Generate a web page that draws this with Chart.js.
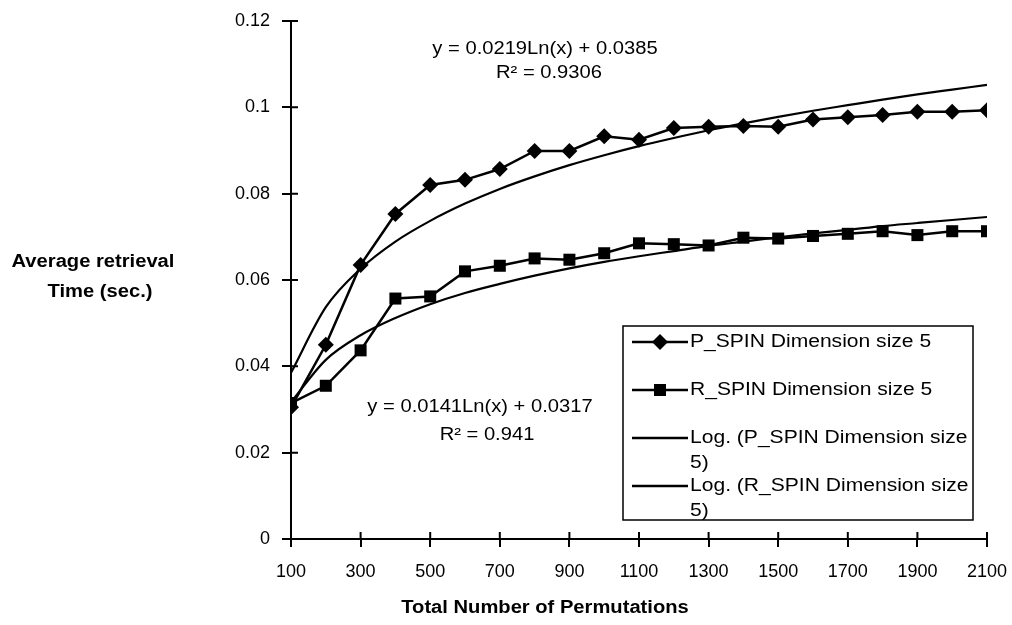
<!DOCTYPE html>
<html lang="en">
<head>
    <meta charset="UTF-8">
    <title>Average retrieval time</title>
    <script src="https://cdn.jsdelivr.net/npm/chart.js@4.4.1/dist/chart.umd.min.js"></script>
    <style>
        html, body { margin: 0; padding: 0; background: #fff; }
        #wrap { width: 1012px; height: 625px; position: relative; }
    </style>
</head>
<body>

<div id="wrap">
    <canvas id="myChart" width="1012" height="625"></canvas>
</div>

<script>
    // values
    var permutations = [100, 200, 300, 400, 500, 600, 700, 800, 900, 1000, 1100,
        1200, 1300, 1400, 1500, 1600, 1700, 1800, 1900, 2000, 2100];
    var pSpin = [0.0305, 0.045, 0.0635, 0.0753, 0.082, 0.0832, 0.0857, 0.0899, 0.0899, 0.0933, 0.0925,
        0.0952, 0.0955, 0.0957, 0.0955, 0.0972, 0.0977, 0.0982, 0.099, 0.099, 0.0993];
    var rSpin = [0.0315, 0.0355, 0.0437, 0.0557, 0.0562, 0.062, 0.0633, 0.065, 0.0647, 0.0662, 0.0685,
        0.0683, 0.068, 0.0698, 0.0696, 0.0702, 0.0707, 0.0713, 0.0704, 0.0713, 0.0713];
    var pSpinLog = [0.0385, 0.0537, 0.0626, 0.0689, 0.0737, 0.0777, 0.0811, 0.084, 0.0866, 0.0889, 0.091,
        0.0929, 0.0947, 0.0963, 0.0978, 0.0992, 0.1005, 0.1018, 0.103, 0.1041, 0.1052];
    var rSpinLog = [0.0317, 0.0415, 0.0472, 0.0512, 0.0544, 0.057, 0.0591, 0.061, 0.0627, 0.0642, 0.0655,
        0.0667, 0.0679, 0.0689, 0.0699, 0.0708, 0.0716, 0.0725, 0.0732, 0.0739, 0.0746];
    var xTicks = [100, 300, 500, 700, 900, 1100, 1300, 1500, 1700, 1900, 2100];
    var seriesNames = ["P_SPIN Dimension size 5", "R_SPIN Dimension size 5",
        "Log. (P_SPIN Dimension size", "Log. (R_SPIN Dimension size"];
    var eqP = ["y = 0.0219Ln(x) + 0.0385", "R\u00b2 = 0.9306"];
    var eqR = ["y = 0.0141Ln(x) + 0.0317", "R\u00b2 = 0.941"];

    var FONT = "'Liberation Sans', Arial, sans-serif";

    function pts(arr) {
        return arr.map(function (v, i) { return {x: permutations[i], y: v}; });
    }

    // text slightly stretched sideways like the scan
    function txt(ctx, s, x, y, align, sx) {
        ctx.save();
        ctx.translate(x, y);
        ctx.scale(sx, 1);
        ctx.textAlign = align;
        ctx.fillText(s, 0, 0);
        ctx.restore();
    }

    // texts, cross ticks + legend box drawn on top
    var extras = {
        id: 'extras',
        afterDraw: function (chart) {
            var ctx = chart.ctx;
            var xs = chart.scales.x, ys = chart.scales.y;
            ctx.save();
            ctx.fillStyle = '#000';
            ctx.strokeStyle = '#000';
            ctx.textBaseline = 'middle';

            // inner half of the tick marks
            ctx.lineWidth = 2;
            ctx.beginPath();
            ys.ticks.forEach(function (t) {
                var py = ys.getPixelForValue(t.value);
                ctx.moveTo(xs.left, py);
                ctx.lineTo(xs.left + 7, py);
            });
            xTicks.forEach(function (v) {
                var px = xs.getPixelForValue(v);
                ctx.moveTo(px, ys.bottom);
                ctx.lineTo(px, ys.bottom - 7);
            });
            ctx.stroke();

            ctx.font = "bold 18px " + FONT;
            txt(ctx, "Average retrieval", 93, 262, 'center', 1.12);
            txt(ctx, "Time (sec.)", 100, 292, 'center', 1.12);
            txt(ctx, "Total Number of Permutations", 545, 608, 'center', 1.12);

            ctx.font = "18px " + FONT;
            txt(ctx, eqP[0], 545, 49, 'center', 1.12);
            txt(ctx, eqP[1], 549, 73, 'center', 1.12);
            txt(ctx, eqR[0], 480, 407, 'center', 1.12);
            txt(ctx, eqR[1], 487, 435, 'center', 1.12);

            // legend
            ctx.fillStyle = '#fff';
            ctx.fillRect(623, 326, 350, 194);
            ctx.lineWidth = 1.5;
            ctx.strokeRect(623, 326, 350, 194);

            var rows = [342, 390, 438, 486];
            ctx.lineWidth = 2.5;
            ctx.fillStyle = '#000';
            for (var i = 0; i < 4; i++) {
                ctx.beginPath();
                ctx.moveTo(632, rows[i]);
                ctx.lineTo(688, rows[i]);
                ctx.stroke();
                txt(ctx, seriesNames[i], 690, rows[i], 'left', 1.17);
            }
            txt(ctx, "5)", 690, 463, 'left', 1.17);
            txt(ctx, "5)", 690, 511, 'left', 1.17);

            // markers in legend
            ctx.beginPath();
            ctx.moveTo(660, 342 - 8);
            ctx.lineTo(660 + 8, 342);
            ctx.lineTo(660, 342 + 8);
            ctx.lineTo(660 - 8, 342);
            ctx.closePath();
            ctx.fill();
            ctx.fillRect(654, 384, 12, 12);
            ctx.restore();
        }
    };

    var ctx = document.getElementById('myChart');
    var myChart = new Chart(ctx, {
        type: 'line',
        data: {
            datasets: [
                {
                    label: seriesNames[0],
                    data: pts(pSpin),
                    borderColor: '#000',
                    backgroundColor: '#000',
                    borderWidth: 2.5,
                    pointStyle: 'rectRot',
                    pointRadius: 8,
                    pointBorderWidth: 0,
                    tension: 0
                },
                {
                    label: seriesNames[1],
                    data: pts(rSpin),
                    borderColor: '#000',
                    backgroundColor: '#000',
                    borderWidth: 2.5,
                    pointStyle: 'rect',
                    pointRadius: 8.5,
                    pointBorderWidth: 0,
                    tension: 0
                },
                {
                    label: seriesNames[2],
                    data: pts(pSpinLog),
                    borderColor: '#000',
                    borderWidth: 2.2,
                    pointRadius: 0,
                    cubicInterpolationMode: 'monotone'
                },
                {
                    label: seriesNames[3],
                    data: pts(rSpinLog),
                    borderColor: '#000',
                    borderWidth: 2.2,
                    pointRadius: 0,
                    cubicInterpolationMode: 'monotone'
                }
            ]
        },
        options: {
            responsive: false,
            animation: false,
            maintainAspectRatio: false,
            layout: { padding: { left: 0, right: 25, top: 21, bottom: 0 } },
            plugins: {
                legend: { display: false },
                tooltip: { enabled: false }
            },
            scales: {
                x: {
                    type: 'linear',
                    min: 100,
                    max: 2100,
                    afterBuildTicks: function (axis) {
                        axis.ticks = xTicks.map(function (v) { return {value: v}; });
                    },
                    afterFit: function (axis) {
                        axis.height = 86;
                        axis.paddingLeft = 0;
                        axis.paddingRight = 0;
                    },
                    border: { color: '#000', width: 2 },
                    grid: { drawOnChartArea: false, color: '#000', lineWidth: 2, tickLength: 8 },
                    ticks: {
                        color: '#000',
                        font: { family: FONT, size: 18 },
                        padding: 14,
                        maxRotation: 0,
                        autoSkip: false,
                        callback: function (v) { return String(v); }
                    }
                },
                y: {
                    min: 0,
                    max: 0.12,
                    afterFit: function (axis) {
                        axis.width = 291;
                        axis.paddingTop = 0;
                        axis.paddingBottom = 0;
                    },
                    border: { color: '#000', width: 2 },
                    grid: { drawOnChartArea: false, color: '#000', lineWidth: 2, tickLength: 9 },
                    ticks: {
                        stepSize: 0.02,
                        color: '#000',
                        font: { family: FONT, size: 18 },
                        padding: 12,
                        callback: function (v) { return String(+v.toFixed(2)); }
                    }
                }
            }
        },
        plugins: [extras]
    });
</script>

</body>
</html>
